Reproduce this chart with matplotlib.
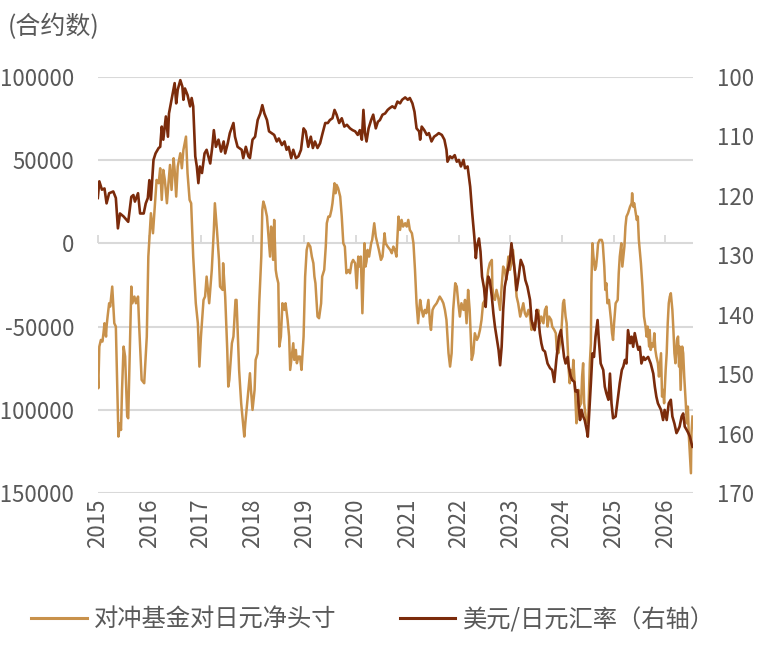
import matplotlib
matplotlib.use("Agg")
import matplotlib.pyplot as plt
from matplotlib.lines import Line2D

plt.rcParams['font.family'] = ['Noto Sans CJK SC', 'DejaVu Sans']
plt.rcParams['axes.unicode_minus'] = False

# hedge fund net yen position (contracts), left axis
pos_t = [
    2015.00, 2015.01, 2015.03, 2015.06, 2015.09, 2015.11, 2015.13, 2015.16, 2015.17, 2015.19,
    2015.22, 2015.24, 2015.28, 2015.32, 2015.35, 2015.38, 2015.40, 2015.43, 2015.45, 2015.47,
    2015.50, 2015.53, 2015.57, 2015.59, 2015.65, 2015.67, 2015.71, 2015.74, 2015.78, 2015.80,
    2015.85, 2015.90, 2015.95, 2015.98, 2016.03, 2016.07, 2016.10, 2016.14, 2016.18, 2016.21,
    2016.24, 2016.27, 2016.30, 2016.34, 2016.37, 2016.40, 2016.43, 2016.47, 2016.49, 2016.52,
    2016.55, 2016.60, 2016.63, 2016.66, 2016.71, 2016.74, 2016.78, 2016.81, 2016.85, 2016.90,
    2016.94, 2016.97, 2017.00, 2017.05, 2017.08, 2017.11, 2017.16, 2017.21, 2017.25, 2017.27,
    2017.31, 2017.35, 2017.37, 2017.42, 2017.43, 2017.47, 2017.51, 2017.53, 2017.55, 2017.60,
    2017.63, 2017.67, 2017.69, 2017.74, 2017.78, 2017.84, 2017.86,
    2017.92, 2017.95, 2017.97, 2018.00, 2018.04, 2018.06, 2018.10, 2018.13, 2018.17, 2018.19,
    2018.21, 2018.24, 2018.28, 2018.31, 2018.34, 2018.36, 2018.39, 2018.40, 2018.42, 2018.45,
    2018.47, 2018.50, 2018.52, 2018.55, 2018.58, 2018.62, 2018.64, 2018.68, 2018.71, 2018.73,
    2018.76, 2018.79, 2018.81, 2018.84, 2018.86, 2018.89, 2018.92, 2018.95, 2018.99, 2019.02,
    2019.05, 2019.08, 2019.12, 2019.15, 2019.18, 2019.20, 2019.22, 2019.26, 2019.29, 2019.33,
    2019.35, 2019.39, 2019.42, 2019.44, 2019.47, 2019.50, 2019.53, 2019.55, 2019.59, 2019.61,
    2019.63, 2019.66, 2019.70, 2019.73, 2019.76, 2019.79, 2019.82, 2019.86, 2019.89, 2019.92,
    2019.95, 2019.99, 2020.02, 2020.05, 2020.07, 2020.10, 2020.13, 2020.15, 2020.17, 2020.19,
    2020.21, 2020.23, 2020.26, 2020.30, 2020.32, 2020.36, 2020.39, 2020.42, 2020.45, 2020.49,
    2020.52, 2020.56, 2020.58, 2020.62, 2020.67, 2020.70, 2020.73, 2020.76, 2020.79, 2020.83,
    2020.86, 2020.89, 2020.92, 2020.96, 2020.99, 2021.02, 2021.05, 2021.09, 2021.12, 2021.15,
    2021.18, 2021.21, 2021.25, 2021.28, 2021.31, 2021.34, 2021.37, 2021.41, 2021.44, 2021.46,
    2021.49, 2021.52, 2021.57, 2021.60, 2021.63, 2021.67, 2021.70, 2021.73, 2021.76, 2021.80,
    2021.83, 2021.86, 2021.89, 2021.93, 2021.96, 2021.99, 2022.02, 2022.05, 2022.09, 2022.12,
    2022.15, 2022.18, 2022.21, 2022.25, 2022.28, 2022.31, 2022.35, 2022.38, 2022.41, 2022.44,
    2022.47, 2022.51, 2022.54, 2022.57, 2022.60, 2022.64, 2022.65, 2022.67, 2022.70, 2022.73,
    2022.76, 2022.80, 2022.83, 2022.86, 2022.89, 2022.92, 2022.96, 2022.99, 2023.02, 2023.05,
    2023.09, 2023.12, 2023.15, 2023.19, 2023.22, 2023.25, 2023.28, 2023.31, 2023.35, 2023.38,
    2023.41, 2023.44, 2023.48, 2023.51, 2023.54, 2023.57, 2023.60, 2023.64, 2023.67,
    2023.70, 2023.72, 2023.75, 2023.79, 2023.81, 2023.85, 2023.88, 2023.90, 2023.93, 2023.96,
    2023.99, 2024.02, 2024.04, 2024.07, 2024.09, 2024.11, 2024.13, 2024.15, 2024.17, 2024.20,
    2024.22, 2024.25, 2024.28, 2024.30, 2024.32, 2024.34, 2024.37, 2024.39, 2024.41, 2024.43,
    2024.46, 2024.48, 2024.51, 2024.54, 2024.56, 2024.57, 2024.59, 2024.61, 2024.64, 2024.66,
    2024.68, 2024.70, 2024.73, 2024.77, 2024.79, 2024.82, 2024.84, 2024.86, 2024.88, 2024.91,
    2024.95, 2024.97, 2024.99, 2025.01, 2025.04, 2025.08, 2025.10, 2025.12, 2025.15, 2025.17,
    2025.21, 2025.23, 2025.25, 2025.28, 2025.32, 2025.35, 2025.36, 2025.38, 2025.40, 2025.43,
    2025.45, 2025.47, 2025.49, 2025.53, 2025.56, 2025.59, 2025.62, 2025.64, 2025.66, 2025.69,
    2025.70, 2025.72, 2025.75, 2025.77, 2025.79, 2025.81, 2025.83, 2025.86, 2025.88, 2025.92,
    2025.94, 2025.96, 2025.98, 2026.01, 2026.03, 2026.05, 2026.07, 2026.09, 2026.11, 2026.14,
    2026.16, 2026.18, 2026.20, 2026.23, 2026.25, 2026.27, 2026.28, 2026.30, 2026.33, 2026.35,
    2026.37, 2026.40, 2026.42, 2026.44, 2026.46, 2026.49, 2026.50, 2026.51, 2026.53,
]
pos_val = [
    -80000, -87000, -62000, -58000, -59000, -54000, -48000, -56000, -50000, -44000,
    -36000, -38000, -26000, -48000, -50000, -88000, -116000, -108000, -112000, -88000,
    -62000, -68000, -104000, -105000, -26000, -36000, -32000, -36000, -32000, -48000,
    -82000, -84000, -56000, -8000, 18000, 6000, 20000, 38000, 36000, 45000,
    26000, 44000, 38000, 24000, 36000, 47000, 32000, 51000, 44000, 28000,
    46000, 54000, 45000, 56000, 64000, 42000, 26000, 24000, -8000, -36000,
    -48000, -74000, -56000, -34000, -32000, -20000, -36000, -16000, 8000, 24000,
    8000, -10000, -26000, -28000, -12000, -32000, -64000, -86000, -82000, -60000,
    -56000, -34000, -34000, -76000, -96000, -116000, -108000,
    -88000, -78000, -88000, -100000, -88000, -70000, -66000, -36000, -8000, 20000,
    25000, 22000, 16000, 4000, -8000, 10000, -2000, -10000, 14000, -16000,
    -20000, -24000, -62000, -56000, -36000, -40000, -36000, -46000, -56000, -76000,
    -68000, -60000, -70000, -64000, -72000, -68000, -68000, -76000, -56000, -20000,
    -4000, 0, -2000, -8000, -12000, -20000, -24000, -44000, -45000, -36000,
    -20000, -16000, -2000, 12000, 16000, 16000, 20000, 24000, 36000, 30000,
    35000, 33000, 28000, 16000, 0, -2000, -18000, -16000, -18000, -12000,
    -10000, -12000, -27000, -8000, -14000, -8000, -42000, -20000, 0, -14000,
    -11000, -4000, -8000, 0, 2000, 12000, 4000, 0, -4000, -10000,
    -8000, 6000, 0, -2000, -4000, -6000, -2000, -4000, -8000, 16000,
    8000, 14000, 10000, 12000, 10000, 14000, 8000, 6000, 0, -16000,
    -36000, -48000, -34000, -40000, -44000, -40000, -42000, -34000, -48000, -52000,
    -40000, -38000, -36000, -34000, -32000, -34000, -36000, -40000, -46000, -66000,
    -74000, -66000, -40000, -24000, -26000, -36000, -44000, -36000, -40000, -34000,
    -48000, -28000, -40000, -70000, -66000, -54000, -58000, -56000, -52000, -46000,
    -36000, -34000, -24000, -16000, -12000, -10000, -26000, -32000, -34000, -28000,
    -32000, -40000, -26000, -14000, -16000, -22000, -8000, -16000, -12000, -4000,
    -20000, -32000, -36000, -44000, -40000, -36000, -42000, -44000, -40000, -44000,
    -52000, -48000, -50000, -44000, -40000, -48000, -44000, -48000, -40000,
    -38000, -50000, -44000, -46000, -50000, -52000, -54000, -64000, -66000, -60000,
    -52000, -36000, -34000, -44000, -48000, -62000, -76000, -84000, -76000, -82000,
    -70000, -86000, -108000, -104000, -88000, -98000, -96000, -80000, -72000, -96000,
    -104000, -108000, -104000, -72000, -60000, -24000, 0, -8000, -16000, -14000,
    -8000, 0, 2000, 2000, 0, -14000, -28000, -24000, -36000, -34000,
    -46000, -54000, -58000, -48000, -36000, -34000, -18000, -8000, 0, -14000,
    -2000, 10000, 16000, 18000, 22000, 24000, 30000, 22000, 24000, 18000,
    14000, 16000, 2000, -12000, -26000, -44000, -50000, -56000, -50000, -62000,
    -52000, -64000, -60000, -62000, -54000, -64000, -68000, -72000, -80000, -66000,
    -92000, -88000, -96000, -76000, -66000, -48000, -36000, -32000, -30000, -40000,
    -52000, -66000, -72000, -58000, -56000, -74000, -62000, -88000, -62000, -66000,
    -80000, -96000, -108000, -98000, -116000, -132000, -138000, -114000, -104000,
]

# USD/JPY, right axis (inverted)
fx_t = [
    2015.00, 2015.03, 2015.08, 2015.13, 2015.17, 2015.22, 2015.30, 2015.35, 2015.39, 2015.43,
    2015.50, 2015.56, 2015.59, 2015.65, 2015.69, 2015.72, 2015.78, 2015.82, 2015.89, 2015.93,
    2015.97, 2016.00, 2016.03, 2016.08, 2016.12, 2016.18, 2016.21, 2016.24, 2016.27, 2016.32,
    2016.36, 2016.38, 2016.43, 2016.49, 2016.52, 2016.55, 2016.60, 2016.64, 2016.66, 2016.69,
    2016.74, 2016.79, 2016.82, 2016.85, 2016.89, 2016.92, 2016.95, 2016.98, 2017.02, 2017.07,
    2017.11, 2017.18, 2017.22, 2017.25, 2017.29, 2017.34, 2017.39, 2017.44, 2017.47, 2017.52,
    2017.56, 2017.63, 2017.66, 2017.71, 2017.79, 2017.82, 2017.87, 2017.92,
    2017.95, 2018.00, 2018.05, 2018.10, 2018.15, 2018.19, 2018.23, 2018.28, 2018.32, 2018.37,
    2018.42, 2018.47, 2018.51, 2018.57, 2018.62, 2018.66, 2018.70, 2018.75, 2018.79, 2018.84,
    2018.89, 2018.94, 2018.99, 2019.03, 2019.08, 2019.13, 2019.17, 2019.21, 2019.26, 2019.31,
    2019.35, 2019.41, 2019.46, 2019.50, 2019.55, 2019.59, 2019.63, 2019.68, 2019.73, 2019.78,
    2019.83, 2019.89, 2019.94, 2019.99, 2020.04, 2020.08, 2020.12, 2020.15, 2020.18, 2020.21,
    2020.25, 2020.30, 2020.34, 2020.39, 2020.43, 2020.47, 2020.52, 2020.57, 2020.62, 2020.66,
    2020.71,
    2020.76, 2020.81, 2020.86, 2020.90, 2020.96, 2021.01, 2021.05, 2021.10, 2021.14, 2021.18,
    2021.23, 2021.25, 2021.28, 2021.33, 2021.38, 2021.42, 2021.47, 2021.52, 2021.57, 2021.61,
    2021.67, 2021.72, 2021.76, 2021.78, 2021.83, 2021.87, 2021.92, 2021.96, 2022.00, 2022.04,
    2022.09, 2022.12, 2022.17, 2022.22, 2022.26, 2022.30, 2022.33, 2022.35, 2022.39, 2022.42,
    2022.45, 2022.49, 2022.52, 2022.54, 2022.57, 2022.60, 2022.64, 2022.67, 2022.70, 2022.73,
    2022.77, 2022.80, 2022.83, 2022.86, 2022.89, 2022.95, 2022.99, 2023.02, 2023.05, 2023.09,
    2023.12, 2023.16, 2023.20, 2023.25, 2023.29, 2023.33, 2023.38, 2023.41, 2023.44, 2023.47,
    2023.51, 2023.54, 2023.57, 2023.60, 2023.63,
    2023.67, 2023.72, 2023.77, 2023.81, 2023.85, 2023.89, 2023.94, 2023.98, 2024.01, 2024.04,
    2024.07, 2024.11, 2024.13, 2024.17, 2024.20, 2024.24, 2024.26, 2024.30, 2024.32, 2024.35,
    2024.38, 2024.41, 2024.44, 2024.48, 2024.50, 2024.52, 2024.56, 2024.59, 2024.62, 2024.65,
    2024.69, 2024.71, 2024.75, 2024.80, 2024.83, 2024.86, 2024.90, 2024.93, 2024.96, 2024.99,
    2025.04, 2025.08, 2025.12, 2025.16, 2025.19, 2025.22, 2025.25, 2025.28, 2025.32, 2025.35,
    2025.38, 2025.41, 2025.45, 2025.48, 2025.51, 2025.54, 2025.58, 2025.61, 2025.67, 2025.72,
    2025.77, 2025.80, 2025.83, 2025.86, 2025.92, 2025.96, 2025.99, 2026.03, 2026.07, 2026.11,
    2026.14, 2026.18, 2026.22, 2026.25, 2026.28, 2026.32, 2026.35, 2026.38, 2026.42, 2026.45,
    2026.48, 2026.51, 2026.53,
]
fx_val = [
    120.4, 117.6, 119.0, 118.8, 121.3, 119.6, 119.3, 120.4, 125.5, 123.0,
    123.5, 124.1, 124.4, 120.2, 119.9, 121.0, 119.6, 123.0, 123.0, 121.3,
    120.4, 117.4, 120.7, 114.0, 112.9, 112.0, 111.8, 108.4, 110.6, 106.7,
    110.1, 106.2, 103.9, 101.1, 104.5, 102.2, 100.6, 101.7, 103.9, 102.0,
    103.1, 105.0, 103.6, 105.0, 113.4, 115.1, 117.9, 115.1, 116.2, 112.9,
    112.3, 114.6, 111.8, 109.0, 111.8, 110.6, 112.6, 110.9, 112.9, 111.2,
    109.5, 107.8, 110.1, 111.8, 112.3, 113.7, 111.8, 113.4,
    113.7, 110.6, 110.1, 107.3, 106.2, 104.8, 106.2, 107.3, 109.2, 109.5,
    109.8, 110.9, 110.4, 111.5, 110.9, 112.3, 111.8, 113.7, 112.3, 113.7,
    113.4, 112.3, 108.7, 109.2, 111.8, 110.1, 112.0, 110.9, 112.0, 111.2,
    109.8, 107.8, 107.8, 107.3, 107.0, 105.6, 106.4, 107.8, 107.0, 108.4,
    108.1, 108.7, 109.0, 109.2, 109.8, 109.0, 110.6, 105.6, 109.5, 110.9,
    108.7, 107.3, 106.4, 108.7, 107.6, 107.3, 106.4, 106.2, 105.6, 105.3,
    105.0,
    105.3, 104.2, 104.5, 103.9, 103.5, 103.9, 103.6, 104.5, 105.9, 108.7,
    109.2, 110.6, 108.4, 109.0, 109.8, 109.5, 110.9, 110.1, 109.8, 109.5,
    109.8, 110.6, 112.3, 114.3, 113.4, 113.7, 113.2, 114.3, 114.0, 115.1,
    114.0, 115.4, 115.1, 118.5, 123.0, 126.9, 130.5, 128.6, 127.2, 129.4,
    133.6, 135.6, 138.7, 135.9, 133.6, 134.2, 137.0, 139.8, 142.0, 143.7,
    145.9, 148.5, 145.4, 139.2, 135.3, 132.5, 130.8, 128.0, 130.3, 133.1,
    135.9, 133.6, 130.8, 131.9, 134.2, 135.3, 137.5, 140.9, 142.0, 142.6,
    139.2, 140.3, 143.1, 144.8, 145.9,
    146.2, 148.2, 149.0, 149.3, 151.3, 147.6, 143.7, 142.6, 144.8, 147.1,
    148.2, 147.1, 148.7, 150.4, 151.0, 151.3, 152.9, 152.7, 154.9, 157.7,
    156.0, 157.1, 157.7, 159.4, 160.5, 157.7, 151.5, 146.5, 147.1, 143.7,
    140.9, 143.7, 148.2, 149.3, 152.1, 153.2, 154.3, 149.9, 154.9, 157.4,
    157.1, 154.3, 151.5, 149.3, 148.7, 147.6, 148.2, 142.6, 144.8, 143.7,
    145.4, 143.1, 144.8, 145.9, 145.4, 148.2, 147.1, 147.6, 147.1, 148.2,
    149.9, 152.1, 153.8, 154.9, 156.0, 157.7, 156.0, 157.7, 154.9, 154.3,
    157.1, 158.3, 159.9, 159.4, 158.8, 157.1, 156.6, 158.8, 159.4, 159.9,
    160.5, 161.6, 162.2,
]

years = list(range(2015, 2027))
left_ticks = [100000, 50000, 0, -50000, -100000, -150000]
right_ticks = [100, 110, 120, 130, 140, 150, 160, 170]

tan = '#C8914B'
brown = '#7B2B0B'
txt = '#595959'
grid = '#D9D9D9'

fig = plt.figure(figsize=(7.7, 6.49), dpi=100)
ax = fig.add_axes([0.127, 0.240, 0.773, 0.642])
ax2 = ax.twinx()

ax.plot(pos_t, pos_val, color=tan, lw=1.8)
ax2.plot(fx_t, fx_val, color=brown, lw=1.9)

ax.set_xlim(2015, 2026.54)
ax.set_ylim(-150000, 100000)
ax.set_yticks(left_ticks)
ax.set_yticklabels([str(v) for v in left_ticks])
ax.grid(axis='y', color=grid, lw=1.5)
ax.set_axisbelow(True)

ax2.set_ylim(170, 100)
ax2.set_yticks(right_ticks)

ax.set_xticks(years)
ax.set_xticklabels([str(y) for y in years], rotation=90)

for a in (ax, ax2):
    for s in a.spines.values():
        s.set_visible(False)
ax.tick_params(axis='y', length=0, pad=17, labelsize=16, labelcolor=txt)
ax2.tick_params(axis='y', length=0, pad=17, labelsize=16, labelcolor=txt)
ax.tick_params(axis='x', length=0, pad=4, labelsize=16, labelcolor=txt)

# small tick marks hanging from the zero line
zero_frac = (0 - (-150000)) / 250000
sec = ax.secondary_xaxis(zero_frac)
sec.set_xticks(years)
sec.set_xticklabels([])
sec.tick_params(axis='x', direction='out', length=6, width=1.3, color=grid)
sec.spines['bottom'].set_visible(False)
sec.spines['top'].set_visible(False)

fig.text(0.010, 1 - 27 / 649, '(合约数)', fontsize=18, color=txt, ha='left', va='center')

handles = [Line2D([], [], color=tan, lw=2.2), Line2D([], [], color=brown, lw=2.2)]
labels = ['对冲基金对日元净头寸', '美元/日元汇率（右轴）']
fig.legend(handles, labels, loc='center', bbox_to_anchor=(0.484, 1 - 620 / 649), ncol=2,
           frameon=False, fontsize=17.5, labelcolor=txt, handlelength=2.3,
           handletextpad=0.3, columnspacing=2.6)

fig.savefig('out.png', dpi=100)
